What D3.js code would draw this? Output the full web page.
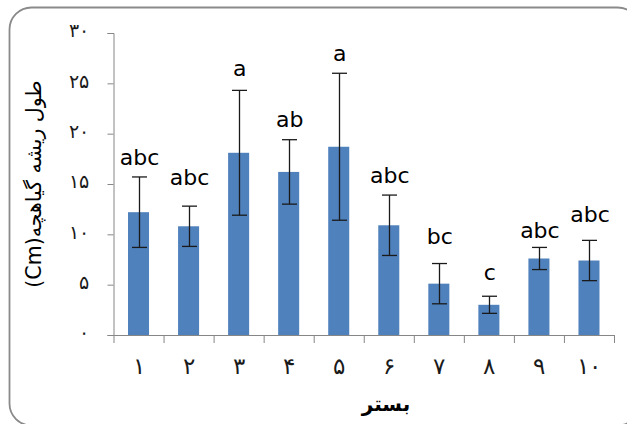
<!DOCTYPE html>
<html>
<head>
<meta charset="utf-8">
<script src="https://cdn.jsdelivr.net/npm/d3@7"></script>
<style>
  html, body { margin: 0; padding: 0; background: #ffffff; }
  svg { display: block; }
</style>
</head>
<body>
<svg id="chart" width="627" height="424"></svg>
<script>
// ---- data ----
const categories = ["۱", "۲", "۳", "۴", "۵", "۶", "۷", "۸", "۹", "۱۰"];
const values = [12.2, 10.8, 18.1, 16.2, 18.7, 10.9, 5.1, 3.0, 7.6, 7.4];
const errors = [3.5, 2.0, 6.2, 3.2, 7.3, 3.0, 2.0, 0.85, 1.1, 2.0];
const letters = ["abc", "abc", "a", "ab", "a", "abc", "bc", "c", "abc", "abc"];
const letterValues = [16.9, 14.9, 25.7, 20.7, 27.2, 15.1, 9.0, 5.5, 9.6, 11.2];
const yTicks = [0, 5, 10, 15, 20, 25, 30];
const yTickLabels = ["۰", "۵", "۱۰", "۱۵", "۲۰", "۲۵", "۳۰"];
const yTitle = "طول ریشه گیاهچه(Cm)";
const xTitle = "بستر";

(function () {
// ---- layout ----
const svg = d3.select("#chart");
const pLeft = 113.5, pRight = 614, pTop = 33, pBottom = 335;

// frame (rounded, partially cut off on the right/bottom)
svg.append("rect")
  .attr("x", 9.5).attr("y", 7.5)
  .attr("width", 630).attr("height", 418)
  .attr("rx", 22).attr("ry", 22)
  .attr("fill", "none")
  .attr("stroke", "#8a8a8a")
  .attr("stroke-width", 1.8);

const x = d3.scaleBand()
  .domain(categories)
  .range([pLeft, pRight])
  .paddingInner(0.58)
  .paddingOuter(0.29);

const xEdges = d3.scaleLinear().domain([0, categories.length]).range([pLeft, pRight]);

const y = d3.scaleLinear().domain([0, 30]).range([pBottom, pTop]);

const axisColor = "#868686";

// y axis
const yAxis = svg.append("g")
  .attr("transform", `translate(${pLeft},0)`)
  .call(d3.axisLeft(y).tickValues(yTicks).tickSize(6).tickPadding(19)
    .tickFormat((d, i) => yTickLabels[i]));
yAxis.select(".domain").attr("stroke", axisColor);
yAxis.selectAll(".tick line").attr("stroke", axisColor);
yAxis.selectAll(".tick text")
  .attr("font-family", "DejaVu Sans, sans-serif")
  .attr("font-size", 19)
  .attr("font-weight", 200)
  .attr("dy", "0.2em")
  .attr("fill", "#1a1a1a");

// x axis: tick marks at category boundaries
const xAxisEdges = svg.append("g")
  .attr("transform", `translate(0,${pBottom})`)
  .call(d3.axisBottom(xEdges).ticks(categories.length).tickSize(8).tickFormat(() => "").tickSizeOuter(0));
xAxisEdges.select(".domain").attr("stroke", axisColor);
xAxisEdges.selectAll(".tick line").attr("stroke", axisColor);

// x axis labels at category centres
const xAxisLabels = svg.append("g")
  .attr("transform", `translate(0,${pBottom})`)
  .call(d3.axisBottom(x).tickSize(0).tickPadding(23));
xAxisLabels.select(".domain").remove();
xAxisLabels.selectAll(".tick text")
  .attr("font-family", "DejaVu Sans, sans-serif")
  .attr("font-size", 23)
  .attr("font-weight", 200)
  .attr("fill", "#1a1a1a");

// bars
svg.append("g").selectAll("rect")
  .data(values)
  .join("rect")
  .attr("x", (d, i) => x(categories[i]))
  .attr("y", d => y(d))
  .attr("width", x.bandwidth())
  .attr("height", d => y(0) - y(d))
  .attr("fill", "#4F81BD");

// error bars
const eb = svg.append("g").attr("stroke", "#1a1a1a").attr("stroke-width", 1.3);
const capW = 15;
values.forEach((v, i) => {
  const cx = Math.round(x(categories[i]) + x.bandwidth() / 2) + 0.5;
  const y1 = y(v + errors[i]), y2 = y(v - errors[i]);
  eb.append("line").attr("x1", cx).attr("x2", cx).attr("y1", y1).attr("y2", y2);
  eb.append("line").attr("x1", cx - capW / 2).attr("x2", cx + capW / 2).attr("y1", y1).attr("y2", y1);
  eb.append("line").attr("x1", cx - capW / 2).attr("x2", cx + capW / 2).attr("y1", y2).attr("y2", y2);
});

// significance letters
svg.append("g").selectAll("text")
  .data(letters)
  .join("text")
  .attr("x", (d, i) => x(categories[i]) + x.bandwidth() / 2 + 1)
  .attr("y", (d, i) => y(letterValues[i]))
  .attr("text-anchor", "middle")
  .attr("font-family", "DejaVu Sans, sans-serif")
  .attr("font-size", 22)
  .attr("fill", "#000")
  .text(d => d);

// y title
svg.append("text")
  .attr("transform", `translate(41,${(pTop + pBottom) / 2}) rotate(-90)`)
  .attr("text-anchor", "middle")
  .attr("direction", "rtl")
  .attr("font-family", "DejaVu Sans, sans-serif")
  .attr("font-size", 20.5)
  .attr("fill", "#000")
  .text(yTitle);

// x title
svg.append("text")
  .attr("x", 386)
  .attr("y", 411)
  .attr("text-anchor", "middle")
  .attr("direction", "rtl")
  .attr("font-family", "DejaVu Sans, sans-serif")
  .attr("font-size", 20)
  .attr("font-weight", "bold")
  .attr("fill", "#000")
  .text(xTitle);
})();
</script>
</body>
</html>
